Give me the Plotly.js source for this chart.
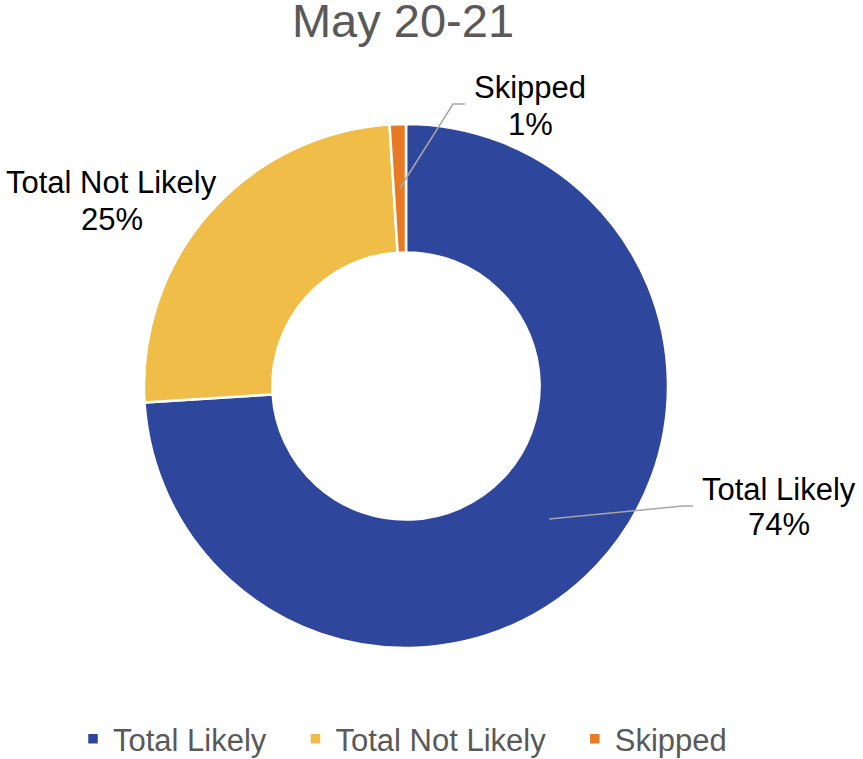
<!DOCTYPE html>
<html><head><meta charset="utf-8">
<script src="https://cdn.plot.ly/plotly-3.0.1.min.js"></script>
<style>html,body{margin:0;padding:0;background:#fff}#chart{width:863px;height:759px}</style>
</head><body><div id="chart"></div>
<script>
const categories = ["Total Likely", "Total Not Likely", "Skipped"];
const values = [74, 25, 1];
const colors = ["#2E469C", "#F0BD48", "#E87A23"];
const chartTitle = "May 20-21";

const W = 863, H = 759;
const FONT = "Liberation Sans, Arial, sans-serif";
const px = x => x / W, py = y => 1 - y / H;
const total = values.reduce((a, b) => a + b, 0);
const pct = values.map(v => Math.round(v / total * 100) + "%");
// label layout: [x center, name line y, percent line y]
const labelPos = [[779, 489, 524], [112, 183, 219], [530, 88, 124]];
const annotations = [];
categories.forEach((c, i) => {
  const [x, y1, y2] = labelPos[i];
  [[c, y1], [pct[i], y2]].forEach(([t, y]) => annotations.push({
    x: px(x), y: py(y), xref: "paper", yref: "paper", text: t, showarrow: false,
    xanchor: "center", yanchor: "middle",
    font: {family: FONT, size: 31, color: "#000"}
  }));
});
const lineStyle = {color: "#A6A6A6", width: 1.5};
const shapes = [
  {type: "path", xref: "paper", yref: "paper",
   path: `M ${px(549)} ${py(519)} L ${px(683)} ${py(506)} L ${px(693)} ${py(506)}`, line: lineStyle},
  {type: "path", xref: "paper", yref: "paper",
   path: `M ${px(400)} ${py(188)} L ${px(453)} ${py(104)} L ${px(465)} ${py(104)}`, line: lineStyle}
];
const legendPad = "\u2002\u00A0";

Plotly.newPlot("chart", [{
  type: "pie", labels: categories.map(c => c + legendPad), values: values, hole: 0.51, sort: false,
  direction: "clockwise", rotation: 0, textinfo: "none", hoverinfo: "label+percent",
  marker: {colors: colors, line: {color: "#fff", width: 2.5}},
  domain: {x: [px(144), px(668)], y: [py(648), py(124)]}
}], {
  width: W, height: H, margin: {l: 0, r: 0, t: 0, b: 0, autoexpand: false},
  paper_bgcolor: "#fff",
  title: {text: chartTitle, x: px(403), xanchor: "center", y: 1 - 21 / H, yanchor: "middle",
    font: {family: FONT, size: 47, color: "#595959"}},
  showlegend: true,
  legend: {orientation: "h", x: px(73), xanchor: "left", y: py(739), yanchor: "middle",
    font: {family: FONT, size: 31, color: "#595959"},
    itemwidth: 30, traceorder: "normal"},
  annotations: annotations, shapes: shapes
}, {displayModeBar: false});
</script></body></html>
